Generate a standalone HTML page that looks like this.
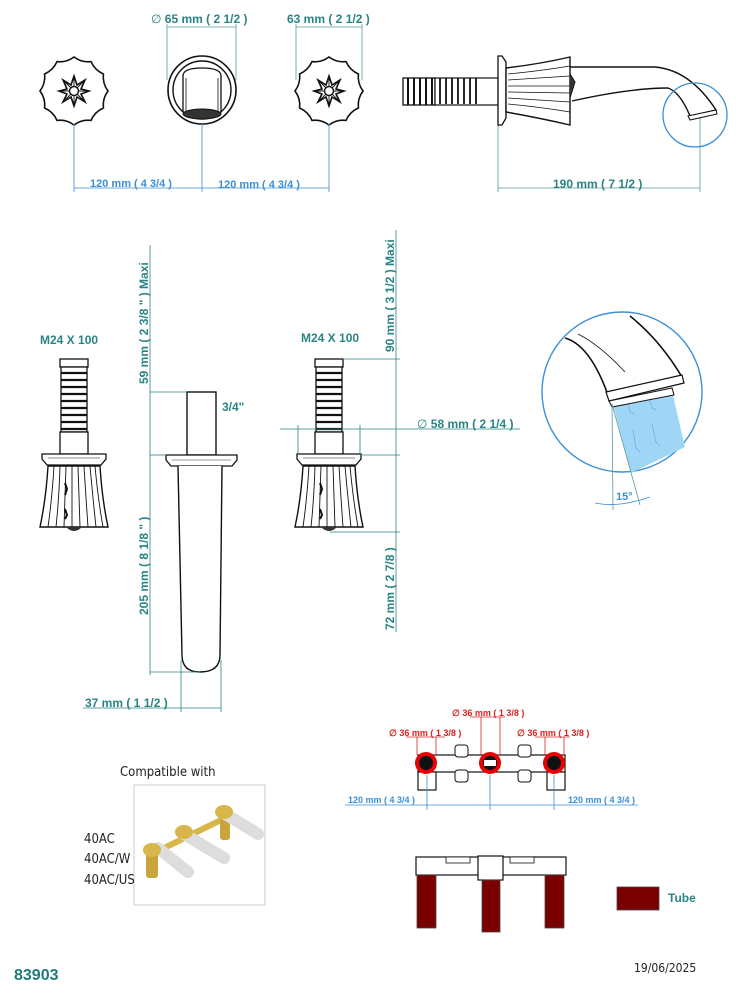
<!DOCTYPE html>
<html><head><meta charset="utf-8"><style>
html,body{margin:0;padding:0;background:#fff}
svg{display:block}
.t{font-family:"Liberation Sans",sans-serif;font-weight:bold;fill:#2a8484;font-size:12px}
.b{font-family:"Liberation Sans",sans-serif;font-weight:bold;fill:#3b8fd6;font-size:11px}
.r{font-family:"Liberation Sans",sans-serif;font-weight:bold;fill:#e02020;font-size:9px}
.k{font-family:"DejaVu Sans Condensed","DejaVu Sans",sans-serif;fill:#222;font-size:13px;font-stretch:condensed}
</style></head><body>
<svg width="736" height="997" viewBox="0 0 736 997" xmlns="http://www.w3.org/2000/svg">
<defs>
<g id="ros">
<path d="M0,-34 A24,24 0 0 0 17,-29.4 A24,24 0 0 0 29.4,-17 A24,24 0 0 0 34,0 A24,24 0 0 0 29.4,17 A24,24 0 0 0 17,29.4 A24,24 0 0 0 0,34 A24,24 0 0 0 -17,29.4 A24,24 0 0 0 -29.4,17 A24,24 0 0 0 -34,0 A24,24 0 0 0 -29.4,-17 A24,24 0 0 0 -17,-29.4 A24,24 0 0 0 0,-34Z" fill="#fff" stroke="#111" stroke-width="1.6"/>
<path d="M0,-15 L3,-6 L11,-11 L7,-2 L15,0 L7,3 L11,11 L3,6 L0,15 L-3,6 L-11,11 L-7,3 L-15,0 L-7,-2 L-11,-11 L-3,-6Z" fill="#fff" stroke="#111" stroke-width="1.6"/>
<path d="M0,-15 L0,15 M-15,0 L15,0 M-11,-11 L11,11 M11,-11 L-11,11" stroke="#111" stroke-width="0.9"/>
<circle r="4.5" fill="#fff" stroke="#111" stroke-width="1.4"/>
</g>
<g id="cart">
<rect x="0" y="0" width="28" height="8" fill="#fff" stroke="#111" stroke-width="1.3"/>
<rect x="1" y="8" width="26" height="65" fill="#fff" stroke="#111" stroke-width="1.3"/>
<g stroke="#111" stroke-width="2.2">
<line x1="1" y1="14" x2="27" y2="14"/><line x1="1" y1="21" x2="27" y2="21"/><line x1="1" y1="28" x2="27" y2="28"/><line x1="1" y1="35" x2="27" y2="35"/><line x1="1" y1="42" x2="27" y2="42"/><line x1="1" y1="49" x2="27" y2="49"/><line x1="1" y1="56" x2="27" y2="56"/><line x1="1" y1="63" x2="27" y2="63"/><line x1="1" y1="70" x2="27" y2="70"/></g>
<rect x="0" y="73" width="28" height="22" fill="#fff" stroke="#111" stroke-width="1.3"/>
<path d="M-18,95 L46,95 L46,100 L41,106 L-13,106 L-18,100Z" fill="#fff" stroke="#111" stroke-width="1.3"/>
<line x1="-12" y1="99" x2="40" y2="99" stroke="#666" stroke-width="0.8"/>
<path d="M-12,107 L40,107 Q42,140 48,168 L-20,168 Q-14,140 -12,107Z" fill="#fff" stroke="#111" stroke-width="1.4"/>
<g stroke="#111" stroke-width="0.9" fill="none">
<path d="M-6,107 Q-8,140 -12,168"/><path d="M0,107 Q-1,140 -4,168"/><path d="M6,107 L4,168"/><path d="M12,107 L12,168"/><path d="M18,107 L20,168"/><path d="M24,107 Q26,140 28,168"/><path d="M30,107 Q33,140 36,168"/><path d="M35,107 Q38,140 43,168"/></g>
<path d="M5,124 L7,130 L5,136 M5,150 L7,156 L5,160" stroke="#111" stroke-width="2" fill="none"/>
<path d="M6,168 Q14,176 22,168" fill="#333"/>
</g>
</defs>

<!-- TOP ROW -->
<use href="#ros" x="74" y="91"/>
<use href="#ros" x="329" y="91"/>
<circle cx="202" cy="90" r="34" fill="#fff" stroke="#111" stroke-width="1.6"/>
<circle cx="202" cy="90" r="29" fill="none" stroke="#111" stroke-width="1.4"/>
<path d="M183,112 L183,76 Q183,68 202,68 Q221,68 221,76 L221,112" fill="none" stroke="#111" stroke-width="1.3"/>
<path d="M186,112 L186,78 M218,112 L218,78" stroke="#111" stroke-width="0.8"/>
<ellipse cx="202" cy="114" rx="19" ry="5" fill="#333" stroke="#111"/>

<g stroke="#3b8fd6" stroke-width="0.8">
<line x1="74" y1="124" x2="74" y2="192"/><line x1="202" y1="124" x2="202" y2="192"/><line x1="329" y1="124" x2="329" y2="192"/>
<line x1="74" y1="188" x2="329" y2="188"/>
</g>
<g stroke="#5a9a9a" stroke-width="0.8">
<line x1="167" y1="24" x2="167" y2="80"/><line x1="236" y1="24" x2="236" y2="80"/><line x1="167" y1="27" x2="236" y2="27"/>
<line x1="296" y1="24" x2="296" y2="80"/><line x1="362" y1="24" x2="362" y2="80"/><line x1="296" y1="27" x2="362" y2="27"/>
<line x1="498" y1="125" x2="498" y2="192"/><line x1="700" y1="118" x2="700" y2="192"/><line x1="498" y1="188" x2="700" y2="188"/>
</g>
<text class="b" x="90" y="187">120 mm ( 4 3/4 )</text>
<text class="b" x="218" y="188">120 mm ( 4 3/4 )</text>
<text class="t" x="151" y="23"><tspan font-weight="normal">∅</tspan> 65 mm ( 2 1/2 )</text>
<text class="t" x="287" y="23">63 mm ( 2 1/2 )</text>
<text class="t" x="553" y="188">190 mm ( 7 1/2 )</text>

<!-- side view -->
<rect x="403" y="78" width="32" height="27" fill="#fff" stroke="#111" stroke-width="1.3"/>
<g stroke="#111" stroke-width="2"><line x1="408" y1="78" x2="408" y2="105"/><line x1="414" y1="78" x2="414" y2="105"/><line x1="420" y1="78" x2="420" y2="105"/><line x1="426" y1="78" x2="426" y2="105"/><line x1="432" y1="78" x2="432" y2="105"/></g>
<rect x="435" y="78" width="63" height="27" fill="#fff" stroke="#111" stroke-width="1.2"/>
<g stroke="#111" stroke-width="1.8"><line x1="440" y1="78" x2="440" y2="104"/><line x1="446" y1="78" x2="446" y2="104"/><line x1="452" y1="78" x2="452" y2="104"/><line x1="458" y1="78" x2="458" y2="104"/><line x1="464" y1="78" x2="464" y2="104"/><line x1="470" y1="78" x2="470" y2="104"/><line x1="476" y1="78" x2="476" y2="104"/></g>
<path d="M498,56 L502,56 L506,62 L506,118 L502,125 L498,125Z" fill="#fff" stroke="#111" stroke-width="1.3"/>
<path d="M506,68 Q540,64 570,57 L570,125 Q540,118 506,112Z" fill="#fff" stroke="#111" stroke-width="1.4"/>
<g stroke="#111" stroke-width="0.8" fill="none"><path d="M508,74 Q540,71 570,66"/><path d="M508,80 Q540,78 570,76"/><path d="M508,86 L570,86"/><path d="M508,92 L570,93"/><path d="M508,98 Q540,100 570,102"/><path d="M508,104 Q540,107 570,112"/></g>
<path d="M570,67 L655,67 Q690,70 716,110 L690,116 Q680,92 668,88 Q630,88 572,101" fill="none" stroke="#111" stroke-width="1.4"/>
<path d="M570,74 L575,82 L570,98" fill="#333" stroke="#111"/>
<path d="M688,116 L716,110 L717,114 L690,120Z" fill="#fff" stroke="#111"/>
<circle cx="695" cy="115" r="32" fill="none" stroke="#3b8fd6" stroke-width="1.3"/>

<!-- MIDDLE -->
<text class="t" x="40" y="344">M24 X 100</text>
<use href="#cart" x="60" y="359"/>
<text class="t" x="301" y="342">M24 X 100</text>
<use href="#cart" x="315" y="359"/>

<!-- center tube -->
<rect x="187" y="392" width="29" height="63" fill="#fff" stroke="#111" stroke-width="1.4"/>
<path d="M166,455 L237,455 L237,460 L232,466 L171,466 L166,460Z" fill="#fff" stroke="#111" stroke-width="1.3"/>
<line x1="172" y1="460" x2="231" y2="460" stroke="#777" stroke-width="0.8"/>
<path d="M178,466 L182,655 Q182,672 200,672 Q220,672 220,655 L222,466" fill="#fff" stroke="#111" stroke-width="1.4"/>
<text class="t" x="222" y="411">3/4"</text>

<g stroke="#2a8484" stroke-width="0.8">
<line x1="150" y1="245" x2="150" y2="675"/>
<line x1="150" y1="392" x2="187" y2="392"/><line x1="150" y1="455" x2="166" y2="455"/><line x1="150" y1="672" x2="200" y2="672"/>
<line x1="181" y1="660" x2="181" y2="712"/><line x1="221" y1="660" x2="221" y2="712"/><line x1="83" y1="708" x2="221" y2="708"/>
<line x1="396" y1="230" x2="396" y2="632"/>
<line x1="343" y1="359" x2="400" y2="359"/><line x1="360" y1="455" x2="400" y2="455"/><line x1="330" y1="532" x2="400" y2="532"/>
<line x1="280" y1="429" x2="520" y2="429"/><line x1="298" y1="425" x2="298" y2="455"/><line x1="360" y1="425" x2="360" y2="455"/>
</g>
<text class="t" transform="translate(148,384) rotate(-90)">59 mm ( 2 3/8 " )   Maxi</text>
<text class="t" transform="translate(148,615) rotate(-90)">205 mm ( 8 1/8 " )</text>
<text class="t" transform="translate(394,352) rotate(-90)">90 mm ( 3 1/2 )   Maxi</text>
<text class="t" transform="translate(394,630) rotate(-90)">72 mm ( 2 7/8 )</text>
<text class="t" x="85" y="707">37 mm ( 1 1/2 )</text>
<text class="t" x="417" y="428"><tspan font-weight="normal">∅</tspan> 58 mm ( 2 1/4 )</text>

<!-- detail circle -->
<circle cx="622" cy="392" r="80" fill="#fff" stroke="#3b8fd6" stroke-width="1.4"/>
<path d="M613,404 L672,391 L685,447 L631,473Z" fill="#9fd6f5"/>
<g stroke="#6aaed6" stroke-width="0.7" fill="none"><path d="M628,404 L630,412 L634,414"/><path d="M650,400 L652,408 L656,410"/><path d="M633,430 L636,448 L640,452"/><path d="M652,424 L656,442 L660,446"/></g>
<path d="M565,338 Q590,345 608,395 M630,316 Q660,340 682,377" fill="none" stroke="#111" stroke-width="1.6"/>
<path d="M578,334 Q600,345 625,372" fill="none" stroke="#111" stroke-width="0.8"/>
<path d="M606,392 L682,375 L684,383 L609,401Z" fill="#fff" stroke="#111" stroke-width="1.2"/>
<path d="M609,401 L672,388 L674,395 L612,407Z" fill="#fff" stroke="#111" stroke-width="1"/>
<line x1="612" y1="404" x2="613" y2="510" stroke="#5a9a9a" stroke-width="0.8"/>
<line x1="612" y1="404" x2="640" y2="505" stroke="#5a9a9a" stroke-width="0.8"/>
<path d="M595,503 Q618,508 650,497" fill="none" stroke="#3b8fd6" stroke-width="0.8"/>
<text class="b" x="616" y="500">15°</text>

<!-- BOTTOM LEFT -->
<text class="k" x="120" y="776">Compatible with</text>
<rect x="134" y="785" width="131" height="120" fill="#fff" stroke="#ccc" stroke-width="1"/>
<text class="k" x="84" y="843">40AC</text>
<text class="k" x="84" y="863">40AC/W</text>
<text class="k" x="84" y="884">40AC/US</text>
<g>
<path d="M150,855 L225,818" stroke="#d9b64a" stroke-width="6"/>
<rect x="146" y="850" width="12" height="28" rx="3" fill="#c9a43a"/>
<rect x="220" y="818" width="10" height="22" rx="3" fill="#c9a43a"/>
<path d="M158,848 L188,872" stroke="#ddd" stroke-width="12" stroke-linecap="round"/>
<path d="M184,834 L224,858" stroke="#ddd" stroke-width="12" stroke-linecap="round"/>
<path d="M222,812 L258,834" stroke="#ddd" stroke-width="12" stroke-linecap="round"/>
<ellipse cx="152" cy="850" rx="9" ry="7" fill="#d9b64a"/>
<ellipse cx="184" cy="832" rx="9" ry="7" fill="#d9b64a"/>
<ellipse cx="224" cy="812" rx="9" ry="7" fill="#d9b64a"/>
</g>
<text x="14" y="980" style="font-family:'Liberation Sans',sans-serif;font-weight:bold;font-size:16px;fill:#1f7a7a">83903</text>
<text x="634" y="972" class="k" style="font-size:12px">19/06/2025</text>

<!-- bracket top view -->
<rect x="418" y="755" width="147" height="17" fill="#fff" stroke="#111" stroke-width="1.2"/>
<rect x="418" y="772" width="18" height="18" fill="#fff" stroke="#111" stroke-width="1.2"/>
<rect x="547" y="772" width="18" height="18" fill="#fff" stroke="#111" stroke-width="1.2"/>
<rect x="455" y="745" width="13" height="12" rx="3" fill="#fff" stroke="#111"/>
<rect x="455" y="770" width="13" height="12" rx="3" fill="#fff" stroke="#111"/>
<rect x="518" y="745" width="13" height="12" rx="3" fill="#fff" stroke="#111"/>
<rect x="518" y="770" width="13" height="12" rx="3" fill="#fff" stroke="#111"/>
<circle cx="426" cy="763" r="9" fill="#111" stroke="#e00" stroke-width="4"/>
<circle cx="490" cy="763" r="9" fill="#111" stroke="#e00" stroke-width="4"/>
<circle cx="554" cy="763" r="9" fill="#111" stroke="#e00" stroke-width="4"/>
<rect x="484" y="760" width="12" height="6" fill="#fff"/>
<g stroke="#3b8fd6" stroke-width="0.8">
<line x1="345" y1="805" x2="638" y2="805"/><line x1="427" y1="775" x2="427" y2="810"/><line x1="490" y1="775" x2="490" y2="810"/><line x1="554" y1="775" x2="554" y2="810"/>
</g>
<text class="b" x="348" y="803" style="font-size:9px">120 mm ( 4 3/4 )</text>
<text class="b" x="568" y="803" style="font-size:9px">120 mm ( 4 3/4 )</text>
<g stroke="#e02020" stroke-width="0.8">
<line x1="406" y1="737" x2="445" y2="737"/><line x1="417" y1="737" x2="417" y2="755"/><line x1="436" y1="737" x2="436" y2="755"/>
<line x1="470" y1="717" x2="505" y2="717"/><line x1="481" y1="717" x2="481" y2="755"/><line x1="500" y1="717" x2="500" y2="755"/>
<line x1="535" y1="737" x2="570" y2="737"/><line x1="545" y1="737" x2="545" y2="755"/><line x1="564" y1="737" x2="564" y2="755"/>
</g>
<text class="r" x="389" y="736">∅ 36 mm ( 1 3/8 )</text>
<text class="r" x="452" y="716">∅ 36 mm ( 1 3/8 )</text>
<text class="r" x="517" y="736">∅ 36 mm ( 1 3/8 )</text>

<!-- bracket front view -->
<rect x="416" y="857" width="150" height="18" fill="#fff" stroke="#111" stroke-width="1.2"/>
<rect x="478" y="856" width="25" height="24" fill="#fff" stroke="#111" stroke-width="1.2"/>
<rect x="446" y="857" width="24" height="6" fill="#fff" stroke="#111" stroke-width="0.8"/>
<rect x="510" y="857" width="24" height="6" fill="#fff" stroke="#111" stroke-width="0.8"/>
<rect x="417" y="875" width="19" height="53" fill="#7a0000" stroke="#444" stroke-width="0.8"/>
<rect x="482" y="880" width="18" height="52" fill="#7a0000" stroke="#444" stroke-width="0.8"/>
<rect x="545" y="875" width="19" height="53" fill="#7a0000" stroke="#444" stroke-width="0.8"/>
<rect x="617" y="887" width="42" height="23" fill="#7a0000" stroke="#444" stroke-width="0.8"/>
<text class="t" x="668" y="902">Tube</text>
</svg>
</body></html>
